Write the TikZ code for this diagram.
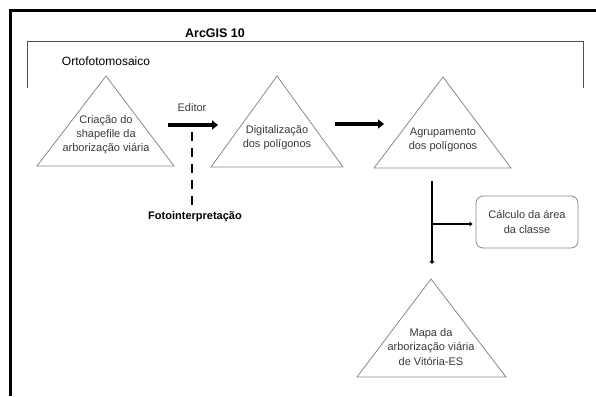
\documentclass[tikz,border=0pt]{standalone}
\usepackage{fontspec}
\setmainfont{Liberation Sans}
\usetikzlibrary{arrows.meta}
\definecolor{trigray}{HTML}{8A8A8A}
\definecolor{brgray}{HTML}{505050}
\definecolor{txtgray}{HTML}{3A3A3A}
\tikzset{
  tri/.style={draw=trigray, line width=0.8pt, line join=miter},
  lbl/.style={font=\fontsize{11}{14.2}\selectfont, text=txtgray, align=center, inner sep=0pt},
  blbl/.style={font=\fontsize{11}{13}\selectfont\bfseries, inner sep=0pt},
  headlbl/.style={font=\fontsize{12}{14}\selectfont, inner sep=0pt},
  titlelbl/.style={font=\fontsize{12.5}{14}\selectfont\bfseries, inner sep=0pt},
  bigarrow/.style={line width=4pt, -{Triangle[length=6pt,width=9pt]}},
  thinarrow/.style={line width=2.2pt, -{Triangle[length=3pt,width=5pt]}},
  branch/.style={line width=1.8pt, -{Triangle[length=3pt,width=4.5pt]}, shorten >=3pt},
  dashline/.style={line width=1.3pt, dash pattern=on 9pt off 7pt},
  roundbox/.style={draw=trigray, line width=0.8pt, rounded corners=7pt, minimum width=102pt, minimum height=52pt, align=center, text=txtgray, font=\fontsize{11}{15}\selectfont, inner sep=0pt}
}
\begin{document}
\begin{tikzpicture}[x=1pt,y=-1pt]
\useasboundingbox (0,0) rectangle (596,396);
\fill[white] (0,0) rectangle (596,396);
% outer frame (top and left)
\draw[line width=3pt] (10.5,396) -- (10.5,10.5) -- (596,10.5);
% bracket
\draw[brgray, line width=1pt] (27,88) -- (27,42) -- (583,42) -- (583,88);
\node[titlelbl] (arcgis) at (215,33) {ArcGIS 10};
\node[headlbl] (orto) at (106,61) {Ortofotomosaico};
% triangles
\draw[tri] (37,166) -- (106,76) -- (174,166) -- cycle;
\node[lbl] (t1) at (106,134.5) {Criação do\\shapefile da\\arborização viária};
\draw[tri] (211,167) -- (277,76) -- (343,167) -- cycle;
\node[lbl] (t2) at (277,138) {Digitalização\\dos polígonos};
\draw[tri] (374,168) -- (443,77) -- (511,168) -- cycle;
\node[lbl] (t3) at (443,139.5) {Agrupamento\\dos polígonos};
\draw[tri] (357,377) -- (431,279) -- (506,377) -- cycle;
\node[lbl] (t4) at (431,347) {Mapa da\\arborização viária\\de Vitória-ES};
% box
\node[roundbox] (calc) at (527,222) {Cálculo da área\\da classe};
% labels
\node[lbl] (editor) at (192,108) {Editor};
\node[blbl] (foto) at (195,217) {Fotointerpretação};
% arrows
\coordinate (a1s) at (168,125);
\coordinate (a1e) at (218,125);
\draw[bigarrow] (a1s) -- (a1e);
\coordinate (a2s) at (335,124);
\coordinate (a2e) at (384,124);
\draw[bigarrow] (a2s) -- (a2e);
\coordinate (d1) at (192,132);
\coordinate (d2) at (192,205);
\draw[dashline] (d1) -- (d2);
\coordinate (vs) at (432,181);
\coordinate (ve) at (432,264);
\draw[thinarrow] (vs) -- (ve);
\coordinate (hs) at (432,224);
\draw[branch] (hs) -- (hs -| calc.west);
\end{tikzpicture}
\end{document}
